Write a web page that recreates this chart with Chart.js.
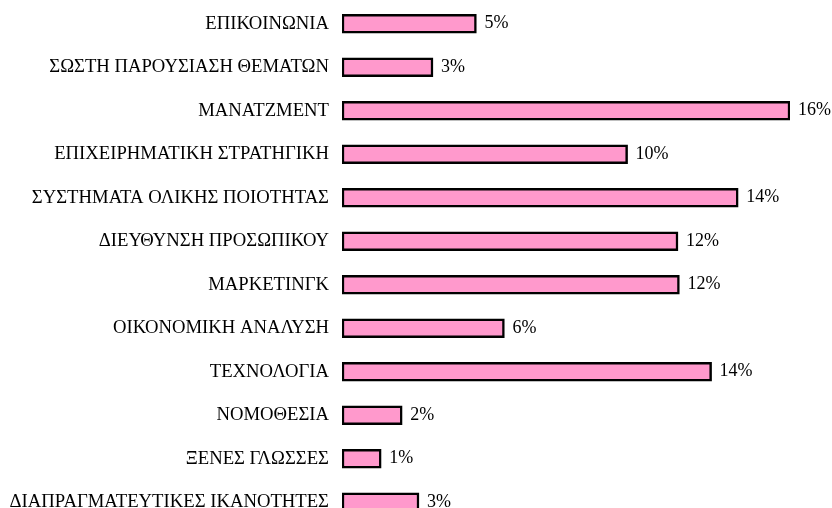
<!DOCTYPE html>
<html>
<head>
<meta charset="utf-8">
<script src="https://cdn.jsdelivr.net/npm/chart.js@4"></script>
<style>
  html, body { margin: 0; padding: 0; background: #fff; }
  #wrap { width: 832px; height: 508px; overflow: hidden; position: relative; }
  #box { width: 832px; height: 524px; position: absolute; left: 0; top: 0; }
</style>
</head>
<body>
<div id="wrap"><div id="box"><canvas id="skillsChart"></canvas></div></div>
<script>
// categories top to bottom
const categories = [
    'ΕΠΙΚΟΙΝΩΝΙΑ',
    'ΣΩΣΤΗ ΠΑΡΟΥΣΙΑΣΗ ΘΕΜΑΤΩΝ',
    'ΜΑΝΑΤΖΜΕΝΤ',
    'ΕΠΙΧΕΙΡΗΜΑΤΙΚΗ ΣΤΡΑΤΗΓΙΚΗ',
    'ΣΥΣΤΗΜΑΤΑ ΟΛΙΚΗΣ ΠΟΙΟΤΗΤΑΣ',
    'ΔΙΕΥΘΥΝΣΗ ΠΡΟΣΩΠΙΚΟΥ',
    'ΜΑΡΚΕΤΙΝΓΚ',
    'ΟΙΚΟΝΟΜΙΚΗ ΑΝΑΛΥΣΗ',
    'ΤΕΧΝΟΛΟΓΙΑ',
    'ΝΟΜΟΘΕΣΙΑ',
    'ΞΕΝΕΣ ΓΛΩΣΣΕΣ',
    'ΔΙΑΠΡΑΓΜΑΤΕΥΤΙΚΕΣ ΙΚΑΝΟΤΗΤΕΣ'
];
// bar lengths (%)
const shares = [4.8, 3.25, 16, 10.2, 14.15, 12.0, 12.05, 5.8, 13.2, 2.15, 1.4, 2.75];
// printed labels next to each bar
const shareLabels = ['5%', '3%', '16%', '10%', '14%', '12%', '12%', '6%', '14%', '2%', '1%', '3%'];

const serif = '"Liberation Serif", "Times New Roman", serif';

// draws the % text just right of every bar
const valueLabels = {
    id: 'valueLabels',
    afterDatasetsDraw(chart) {
        const c = chart.ctx;
        const meta = chart.getDatasetMeta(0);
        c.save();
        c.font = '18px ' + serif;
        c.fillStyle = '#000';
        c.textAlign = 'left';
        c.textBaseline = 'middle';
        meta.data.forEach((bar, i) => {
            c.fillText(shareLabels[i], bar.x + 8, bar.y);
        });
        c.restore();
    }
};

const ctx = document.getElementById('skillsChart').getContext('2d');
new Chart(ctx, {
    type: 'bar',
    data: {
        labels: categories,
        datasets: [{
            data: shares,
            backgroundColor: '#FF99CC',
            borderColor: '#000',
            borderWidth: 2.5,
            borderSkipped: false,
            barThickness: 19
        }]
    },
    options: {
        indexAxis: 'y',
        responsive: true,
        maintainAspectRatio: false,
        animation: false,
        layout: { padding: { top: 2, right: 42, left: 0, bottom: 0 } },
        plugins: { legend: { display: false }, tooltip: { enabled: false } },
        scales: {
            x: { display: false, min: 0, max: 16 },
            y: {
                grid: { display: false, drawTicks: false },
                border: { display: false },
                ticks: { color: '#000', padding: 13, font: { family: serif, size: 18.7 } },
                afterFit(scale) {
                    scale.width = 342;
                    scale.paddingTop = 0;
                    scale.paddingBottom = 0;
                }
            }
        }
    },
    plugins: [valueLabels]
});
</script>
</body>
</html>
